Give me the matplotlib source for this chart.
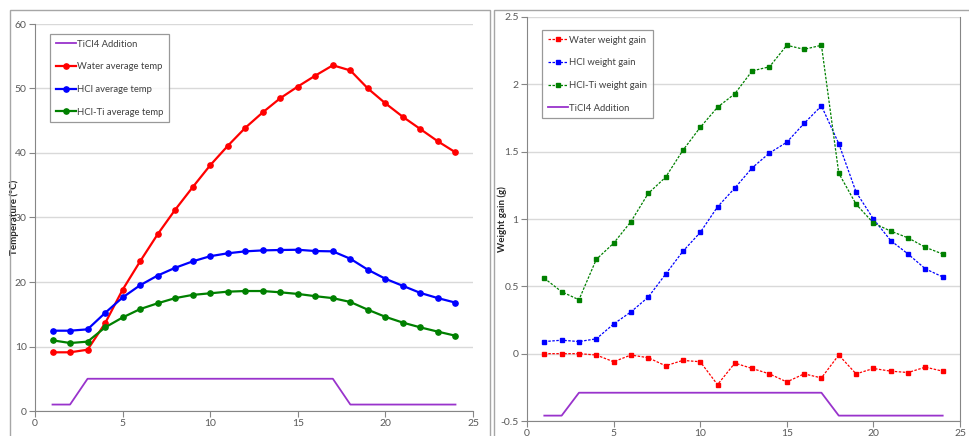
import matplotlib
matplotlib.use("Agg")
import matplotlib.pyplot as plt
from matplotlib.patches import Rectangle

plt.rcParams['font.family'] = ['Lato', 'DejaVu Sans']

traps = list(range(1, 25))

water_temp = [9.1, 9.1, 9.5, 13.6, 18.8, 23.2, 27.4, 31.2, 34.7, 38.1, 41.1, 43.9,
              46.3, 48.5, 50.3, 52.0, 53.6, 52.8, 50.0, 47.7, 45.6, 43.7, 41.8, 40.1]
hcl_temp = [12.45, 12.45, 12.66, 15.2, 17.6, 19.5, 21.0, 22.2, 23.2, 24.0, 24.45, 24.75,
            24.9, 24.96, 25.0, 24.8, 24.75, 23.6, 21.9, 20.5, 19.4, 18.3, 17.5, 16.8]
hclti_temp = [10.96, 10.54, 10.75, 12.96, 14.5, 15.8, 16.7, 17.5, 18.0, 18.25, 18.5, 18.6,
              18.6, 18.4, 18.15, 17.8, 17.5, 16.9, 15.7, 14.6, 13.7, 12.96, 12.3, 11.67]
ticl4_left = [1, 1] + [5] * 15 + [1] * 7

water_gain = [0.0, 0.0, 0.0, -0.01, -0.06, -0.01, -0.03, -0.09, -0.05, -0.06, -0.23, -0.07,
              -0.11, -0.15, -0.21, -0.15, -0.18, -0.01, -0.15, -0.11, -0.13, -0.14, -0.10, -0.13]
hcl_gain = [0.09, 0.10, 0.09, 0.11, 0.22, 0.31, 0.42, 0.59, 0.76, 0.90, 1.09, 1.23,
            1.38, 1.49, 1.57, 1.71, 1.84, 1.56, 1.20, 1.00, 0.84, 0.74, 0.63, 0.57]
hclti_gain = [0.56, 0.46, 0.40, 0.70, 0.82, 0.98, 1.19, 1.31, 1.51, 1.68, 1.83, 1.93,
              2.10, 2.13, 2.29, 2.26, 2.29, 1.34, 1.11, 0.97, 0.91, 0.86, 0.79, 0.74]
ticl4_right = [-0.46, -0.46] + [-0.29] * 15 + [-0.46] * 7

W, H = 969, 436
fig = plt.figure(figsize=(W / 100, H / 100), dpi=100)

PURPLE = '#9933CC'
GRID = '#D9D9D9'
AXC = '#868686'
TXT = '#595959'

def frac_rect(x0, y0, x1, y1):
    return [x0 / W, 1 - y1 / H, (x1 - x0) / W, (y1 - y0) / H]

# chart area frames
for (x0, x1) in [(10, 490), (494, 1000)]:
    fig.add_artist(Rectangle((x0 / W, -0.2), (x1 - x0) / W, 1.2 - 10 / H,
                             transform=fig.transFigure, fill=False,
                             edgecolor='#A6A6A6', linewidth=1.0, clip_on=False))

ax1 = fig.add_axes(frac_rect(35, 24, 473, 411))
ax2 = fig.add_axes(frac_rect(527, 17, 960, 421))

def style(ax, right_spine=False):
    for s in ['top', 'right']:
        ax.spines[s].set_visible(False)
    if right_spine:
        ax.spines['right'].set_visible(True)
        ax.spines['right'].set_color(AXC)
        ax.spines['right'].set_linewidth(0.8)
    for s in ['left', 'bottom']:
        ax.spines[s].set_color(AXC)
        ax.spines[s].set_linewidth(0.8)
    ax.yaxis.grid(True, color=GRID, linewidth=1.0)
    ax.set_axisbelow(True)
    ax.tick_params(axis='both', colors=AXC, labelcolor=TXT, labelsize=7.5,
                   length=4, width=0.8, direction='out', pad=2)
    ax.set_xlim(0, 25)
    ax.set_xticks([0, 5, 10, 15, 20, 25])

style(ax1)
style(ax2, right_spine=True)

LEG = dict(loc='upper left', fontsize=6.8, frameon=True, fancybox=False,
           edgecolor='#808080', labelspacing=1.45, handlelength=2.1,
           handletextpad=0.2, borderpad=0.6, borderaxespad=0)

# Left chart
ax1.plot(traps, ticl4_left, color=PURPLE, linewidth=1.3, label='TiCl4 Addition')
ax1.plot(traps, water_temp, color='#FF0000', linewidth=1.6, marker='o', markersize=3.8,
         label='Water average temp')
ax1.plot(traps, hcl_temp, color='#0000FF', linewidth=1.6, marker='o', markersize=3.8,
         label='HCl average temp')
ax1.plot(traps, hclti_temp, color='#008000', linewidth=1.6, marker='o', markersize=3.8,
         label='HCl-Ti average temp')
ax1.set_ylim(0, 60)
ax1.set_yticks([0, 10, 20, 30, 40, 50, 60])
ax1.set_ylabel('Temperature (°C)', fontsize=7, fontweight='bold', color='#262626')
ax1.yaxis.set_label_coords(-16 / 438, 0.5)
ax1.set_xlabel('Trap', fontsize=7, fontweight='bold', color='#262626')
ax1.xaxis.set_label_coords(0.5, -25 / 387)
leg1 = ax1.legend(bbox_to_anchor=(15 / 438, 377 / 387), **LEG)
leg1.get_frame().set_linewidth(0.9)
for t in leg1.get_texts():
    t.set_color('#404040')

# Right chart
dash = (0, (2, 1.2))
ax2.plot(traps, water_gain, color='#FF0000', linewidth=0.9, linestyle=dash, marker='s',
         markersize=3.4, label='Water weight gain')
ax2.plot(traps, hcl_gain, color='#0000FF', linewidth=0.9, linestyle=dash, marker='s',
         markersize=3.4, label='HCl weight gain')
ax2.plot(traps, hclti_gain, color='#008000', linewidth=0.9, linestyle=dash, marker='s',
         markersize=3.4, label='HCl-Ti weight gain')
ax2.plot(traps, ticl4_right, color=PURPLE, linewidth=1.3, label='TiCl4 Addition')
ax2.set_ylim(-0.5, 2.5)
ax2.set_yticks([-0.5, 0, 0.5, 1, 1.5, 2, 2.5])
ax2.set_yticklabels(['-0.5', '0', '0.5', '1', '1.5', '2', '2.5'])
ax2.set_ylabel('Weight gain (g)', fontsize=7, fontweight='bold', color='#262626')
ax2.yaxis.set_label_coords(-20 / 433, 0.5)
leg2 = ax2.legend(bbox_to_anchor=(15 / 433, 391 / 404), **LEG)
leg2.get_frame().set_linewidth(0.9)
for t in leg2.get_texts():
    t.set_color('#404040')

fig.savefig('out.png', dpi=100)
